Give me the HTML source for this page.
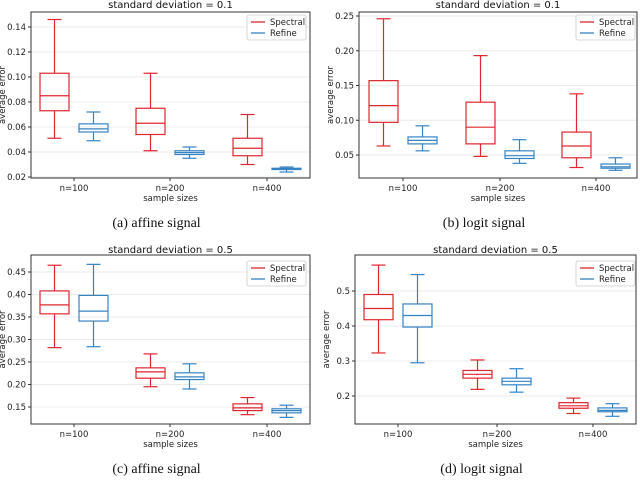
<!DOCTYPE html>
<html><head><meta charset="utf-8"><style>
body{margin:0;background:#fff;}
svg{display:block;font-family:"DejaVu Sans","Liberation Sans",sans-serif;}
</style></head><body>
<svg id="chart" width="640" height="480" viewBox="0 0 640 480" xmlns="http://www.w3.org/2000/svg"></svg>
<script>
const categories = ["n=100","n=200","n=400"];
const seriesNames = ["Spectral","Refine"];
const titles = ["standard deviation = 0.1","standard deviation = 0.1","standard deviation = 0.5","standard deviation = 0.5"];
const captions = ["(a) affine signal","(b) logit signal","(c) affine signal","(d) logit signal"];
const ticksA = [0.02,0.04,0.06,0.08,0.10,0.12,0.14];
const ticksB = [0.05,0.10,0.15,0.20,0.25];
const ticksC = [0.15,0.20,0.25,0.30,0.35,0.40,0.45];
const ticksD = [0.2,0.3,0.4,0.5];
const tickLabelsA = ["0.02","0.04","0.06","0.08","0.10","0.12","0.14"];
const tickLabelsB = ["0.05","0.10","0.15","0.20","0.25"];
const tickLabelsC = ["0.15","0.20","0.25","0.30","0.35","0.40","0.45"];
const tickLabelsD = ["0.2","0.3","0.4","0.5"];
// [whislo, q1, median, q3, whishi] per category
const spectralA = [[.051,.073,.085,.103,.146],[.041,.054,.063,.075,.103],[.030,.037,.043,.051,.070]];
const refineA   = [[.049,.056,.0585,.0625,.072],[.035,.038,.0395,.041,.044],[.024,.026,.0265,.027,.028]];
const spectralB = [[.063,.097,.121,.157,.246],[.048,.066,.090,.126,.193],[.032,.046,.063,.083,.138]];
const refineB   = [[.056,.066,.071,.076,.092],[.038,.045,.049,.056,.072],[.028,.031,.033,.037,.046]];
const spectralC = [[.282,.357,.377,.408,.465],[.195,.214,.228,.237,.268],[.133,.142,.148,.157,.171]];
const refineC   = [[.284,.341,.363,.398,.467],[.190,.211,.217,.226,.246],[.127,.137,.142,.146,.154]];
const spectralD = [[.323,.418,.450,.490,.574],[.219,.251,.262,.273,.303],[.150,.165,.172,.181,.194]];
const refineD   = [[.295,.397,.430,.463,.547],[.211,.232,.242,.251,.278],[.142,.155,.159,.166,.178]];

const NS="http://www.w3.org/2000/svg";
const svg=document.getElementById('chart');
function mk(tag,attrs,parent,text){const e=document.createElementNS(NS,tag);for(const k in attrs)e.setAttribute(k,attrs[k]);if(text!==undefined)e.textContent=text;(parent||svg).appendChild(e);return e;}
const RED="#e0262e", BLUE="#3683c4";
const panels=[
 {L:31,R:310,T:12,B:178,v0:.02,p0:177,v1:.14,p1:27,xt:[74,170,267],ticks:ticksA,labels:tickLabelsA,s:spectralA,r:refineA,ty:5,cap:227,leg:[247,15]},
 {L:359,R:637,T:12,B:178,v0:.05,p0:155,v1:.25,p1:16,xt:[403,500,596],ticks:ticksB,labels:tickLabelsB,s:spectralB,r:refineB,ty:5,cap:227,leg:[576,15]},
 {L:31,R:310,T:255,B:424,v0:.15,p0:407,v1:.45,p1:272,xt:[74,170,267],ticks:ticksC,labels:tickLabelsC,s:spectralC,r:refineC,ty:250,cap:473,leg:[247,261]},
 {L:355,R:636,T:255,B:424,v0:.2,p0:396,v1:.5,p1:291,xt:[398,497,593],ticks:ticksD,labels:tickLabelsD,s:spectralD,r:refineD,ty:250,cap:473,leg:[576,261]}
];
panels.forEach((p,i)=>{
 const g=mk('g',{});
 
 
 const y=v=>p.p0+(v-p.v0)/(p.v1-p.v0)*(p.p1-p.p0);
 p.ticks.forEach((t,k)=>{
  const gl=mk('line',{x1:p.L,x2:p.R,y1:y(t),y2:y(t),stroke:"#ebebeb","stroke-width":1},g);
  
  
  mk('line',{x1:p.L-3,x2:p.L,y1:y(t),y2:y(t),stroke:"#333"},g);
  const tl=mk('text',{x:p.L-5,y:y(t)+3,"font-size":8.5,"text-anchor":"end",fill:"#222"},g,p.labels[k]);
  
  
 });
 p.xt.forEach((x,k)=>{
  mk('line',{x1:x,x2:x,y1:p.B,y2:p.B+3,stroke:"#333"},g);
  const xl=mk('text',{x:x,y:p.B+13,"font-size":8.5,"text-anchor":"middle",fill:"#222"},g,categories[k]);
  
  
  [[p.s[k],RED,-19.5],[p.r[k],BLUE,19.5]].forEach(([d,c,off],si)=>{
   const cx=x+off, hw=14.5, cw=7;
   const bg=mk('g',{stroke:c,"stroke-width":1.2,fill:"none"},g);
   
   
   mk('line',{x1:cx,x2:cx,y1:y(d[0]),y2:y(d[1])},bg);
   mk('line',{x1:cx,x2:cx,y1:y(d[3]),y2:y(d[4])},bg);
   mk('line',{x1:cx-cw,x2:cx+cw,y1:y(d[0]),y2:y(d[0])},bg);
   mk('line',{x1:cx-cw,x2:cx+cw,y1:y(d[4]),y2:y(d[4])},bg);
   mk('rect',{x:cx-hw,y:y(d[3]),width:2*hw,height:y(d[1])-y(d[3])},bg);
   mk('line',{x1:cx-hw,x2:cx+hw,y1:y(d[2]),y2:y(d[2])},bg);
  });
 });
 const fr=mk('rect',{x:p.L,y:p.T,width:p.R-p.L,height:p.B-p.T,fill:"none",stroke:"#333","stroke-width":1},g);
 
 
 const cx=(p.L+p.R)/2;
 const t=mk('text',{x:cx,y:p.ty+3,"font-size":10,"text-anchor":"middle",fill:"#111"},g,titles[i]);
 
 
 const xa=mk('text',{x:cx,y:p.B+23,"font-size":8.5,"text-anchor":"middle",fill:"#222"},g,"sample sizes");
 
 
 const ya=mk('text',{x:0,y:0,"font-size":8.5,"text-anchor":"middle",fill:"#222",transform:`translate(${p.L-26},${(p.T+p.B)/2}) rotate(-90)`},g,"average error");
 
 
 const cp=mk('text',{x:cx-14,y:p.cap,"font-size":14,"text-anchor":"middle",fill:"#111","font-family":"'Liberation Serif',serif"},g,captions[i]);
 
 
 const [lx,ly]=p.leg;
 const lg=mk('g',{},g);
 
 
 mk('rect',{x:lx,y:ly,width:59,height:25,fill:"#fff",stroke:"#ccc","stroke-width":0.8,rx:2},lg);
 [RED,BLUE].forEach((c,si)=>{
  const yy=ly+7+si*11;
  const le=mk('g',{},lg);
  
  
  mk('line',{x1:lx+4,x2:lx+18,y1:yy,y2:yy,stroke:c,"stroke-width":1.3},le);
  mk('text',{x:lx+23,y:yy+3,"font-size":8.5,fill:"#222"},le,seriesNames[si]);
 });
});
</script>
</body></html>
